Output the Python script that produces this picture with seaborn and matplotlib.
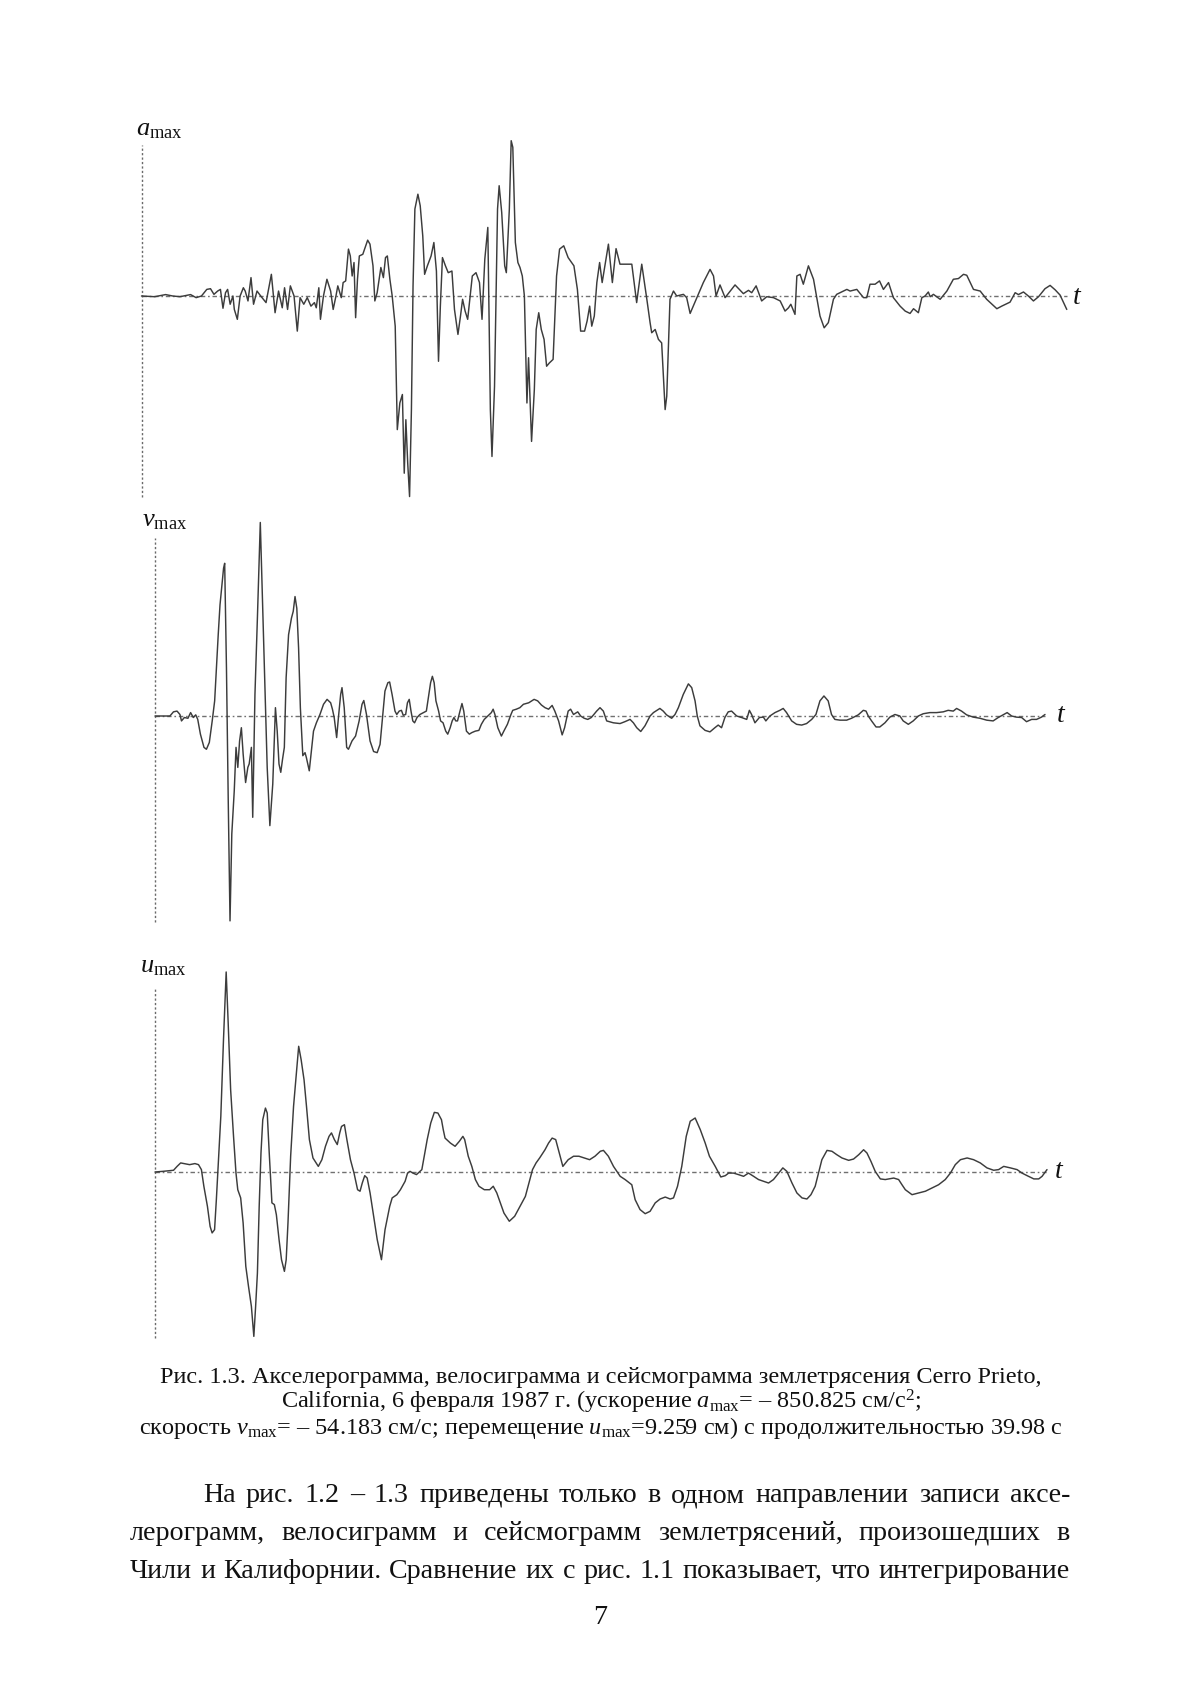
import matplotlib
matplotlib.use("Agg")
import matplotlib.pyplot as plt
import pandas as pd
import seaborn as sns

# ---------------- data ----------------
# acceleration record a(t): (time, s ; acceleration, cm/s^2)
acc_pts = [
    (0.00, 0), (0.57, -3), (1.04, 6), (1.35, 0), (1.66, -3), (2.12, 6), (2.36, -7), (2.59, 0),
    (2.82, 28), (2.98, 31), (3.13, 7), (3.29, 21), (3.41, 28), (3.52, -52), (3.63, 14), (3.72, 28),
    (3.83, -35), (3.95, 0), (4.01, -57), (4.14, -99), (4.26, 0), (4.40, 35), (4.48, 21), (4.60, -21),
    (4.73, 78), (4.84, -35), (4.99, 21), (5.15, 0), (5.38, -28), (5.61, 92), (5.77, -71), (5.92, 21),
    (6.08, -50), (6.18, 35), (6.31, -57), (6.43, 43), (6.59, 0), (6.73, -149), (6.85, -7), (7.01, -35),
    (7.16, -7), (7.32, -43), (7.47, -28), (7.55, -50), (7.66, 35), (7.73, -99), (7.86, 0), (8.01, 71),
    (8.17, 21), (8.28, -57), (8.40, 0), (8.48, 43), (8.63, -7), (8.71, 57), (8.82, 64), (8.94, 199),
    (9.02, 170), (9.10, 85), (9.18, 142), (9.25, -92), (9.33, 71), (9.41, 170), (9.56, 177), (9.77, 237),
    (9.87, 220), (10.00, 128), (10.08, -21), (10.18, 14), (10.34, 121), (10.45, 78), (10.54, 163),
    (10.62, 170), (10.73, 71), (10.83, 0), (10.96, -128), (11.05, -567), (11.16, -454), (11.27, -418),
    (11.35, -752), (11.42, -525), (11.50, -709), (11.58, -851), (11.66, -482), (11.73, 43), (11.81, 369),
    (11.94, 432), (12.04, 383), (12.15, 255), (12.23, 92), (12.35, 128), (12.51, 170), (12.63, 227),
    (12.74, 106), (12.83, -277), (12.91, -43), (13.00, 163), (13.13, 128), (13.25, 99), (13.41, 106),
    (13.52, -57), (13.67, -163), (13.78, -85), (13.87, -14), (13.98, -64), (14.09, -99), (14.29, 85),
    (14.45, 99), (14.60, 57), (14.71, -99), (14.83, 156), (14.96, 291), (15.07, -482), (15.14, -681),
    (15.25, -383), (15.38, 369), (15.45, 468), (15.56, 355), (15.69, 128), (15.76, 99), (15.89, 369),
    (15.97, 659), (16.04, 631), (16.15, 227), (16.26, 142), (16.35, 121), (16.45, 85), (16.54, 0),
    (16.65, -454), (16.72, -262), (16.85, -617), (16.97, -397), (17.05, -142), (17.16, -71),
    (17.27, -142), (17.39, -184), (17.50, -298), (17.62, -284), (17.78, -269), (17.93, 85), (18.06, 199),
    (18.24, 213), (18.43, 163), (18.68, 128), (18.83, 28), (18.97, -149), (19.14, -149), (19.25, -106),
    (19.36, -43), (19.45, -128), (19.56, -85), (19.67, 57), (19.79, 142), (19.90, 57), (20.17, 220),
    (20.34, 57), (20.50, 201), (20.67, 135), (21.18, 135), (21.39, -28), (21.61, 135), (21.83, -14),
    (21.97, -113), (22.04, -156), (22.19, -142), (22.33, -184), (22.47, -199), (22.62, -482),
    (22.69, -425), (22.76, -213), (22.83, -14), (22.98, 21), (23.12, 0), (23.41, 7), (23.55, -7),
    (23.70, -74), (23.99, -7), (24.27, 57), (24.56, 113), (24.71, 85), (24.82, 0), (24.99, 47),
    (25.21, -7), (25.64, 47), (26.00, 10), (26.22, 24), (26.36, 14), (26.55, 43), (26.79, -21),
    (27.01, -3), (27.30, -7), (27.59, -21), (27.80, -64), (27.95, -50), (28.05, -35), (28.23, -78),
    (28.31, 85), (28.45, 92), (28.59, 50), (28.81, 128), (29.03, 71), (29.31, -85), (29.49, -135),
    (29.67, -113), (29.89, -14), (30.03, 7), (30.47, 28), (30.61, 21), (30.90, 28), (31.19, -7),
    (31.33, -7), (31.47, 50), (31.69, 50), (31.88, 64), (32.05, 28), (32.27, 57), (32.48, -7),
    (32.77, -43), (32.99, -64), (33.20, -74), (33.35, -54), (33.56, -71), (33.71, -7), (33.85, 0),
    (33.99, 17), (34.07, -3), (34.21, 7), (34.50, -14), (34.79, 21), (35.07, 71), (35.29, 74),
    (35.51, 92), (35.65, 88), (35.94, 28), (36.23, 21), (36.51, -14), (36.95, -54), (37.16, -43),
    (37.52, -26), (37.74, 14), (37.88, 6), (38.10, 17), (38.31, 0), (38.53, -21), (38.75, -3),
    (39.03, 31), (39.25, 45), (39.47, 26), (39.68, 4), (39.83, -28), (39.97, -57),
]

# velocity record v(t): (time, s ; velocity, cm/s)
vel_pts = [
    (0.00, 0.0), (0.67, 0.0), (0.83, 1.1), (0.99, 1.3), (1.12, 0.4), (1.19, -1.3), (1.32, -0.4),
    (1.48, -0.6), (1.60, 0.9), (1.72, -0.4), (1.83, 0.3), (1.92, -0.9), (2.04, -4.8), (2.20, -8.3),
    (2.31, -8.8), (2.44, -7.0), (2.57, -1.3), (2.68, 4.0), (2.84, 21.5), (2.92, 29.4), (3.08, 39.1),
    (3.13, 40.4), (3.21, 12.7), (3.29, -22.4), (3.37, -54.2), (3.45, -31.2), (3.56, -19.8), (3.64, -8.3),
    (3.72, -13.6), (3.80, -6.6), (3.88, -3.1), (3.96, -10.1), (4.07, -17.6), (4.17, -13.6), (4.23, -12.7),
    (4.33, -8.3), (4.39, -26.8), (4.49, 5.7), (4.60, 25.9), (4.73, 51.2), (4.81, 34.7), (4.92, 11.0),
    (5.04, -13.6), (5.16, -29.0), (5.29, -18.0), (5.41, 2.2), (5.49, -4.0), (5.57, -12.7), (5.65, -14.9),
    (5.73, -11.4), (5.81, -8.3), (5.89, 10.1), (6.00, 21.5), (6.13, 25.9), (6.21, 27.7), (6.29, 31.6),
    (6.37, 28.5), (6.45, 18.0), (6.53, 2.2), (6.64, -10.5), (6.74, -9.7), (6.80, -11.0), (6.93, -14.5),
    (7.01, -10.1), (7.12, -4.0), (7.25, -1.8), (7.41, 0.4), (7.57, 3.1), (7.73, 4.4), (7.89, 3.5),
    (7.97, 1.8), (8.05, -0.4), (8.16, -5.7), (8.24, -0.4), (8.34, 5.7), (8.40, 7.5), (8.50, 2.2),
    (8.61, -8.3), (8.69, -8.8), (8.85, -6.6), (9.01, -5.3), (9.17, -1.3), (9.30, 3.1), (9.38, 4.1),
    (9.50, 0.4), (9.66, -6.6), (9.82, -9.4), (9.98, -9.7), (10.11, -7.5), (10.22, -0.4), (10.33, 6.6),
    (10.46, 8.8), (10.54, 9.0), (10.65, 5.7), (10.78, 1.3), (10.86, 0.4), (10.97, 1.3), (11.07, 1.5),
    (11.15, 0.2), (11.26, 0.4), (11.34, 3.5), (11.42, 4.4), (11.50, 1.3), (11.58, -1.3), (11.66, -1.8),
    (11.77, -0.4), (11.90, 0.4), (12.06, 0.9), (12.19, 1.3), (12.30, 5.7), (12.38, 8.8), (12.46, 10.5),
    (12.54, 8.8), (12.62, 4.0), (12.74, 1.3), (12.83, -1.3), (12.94, -1.8), (13.06, -4.0), (13.15, -4.8),
    (13.26, -3.1), (13.35, -1.3), (13.43, -0.4), (13.51, -1.3), (13.59, -1.3), (13.70, 1.3), (13.79, 3.3),
    (13.87, 1.3), (13.99, -4.0), (14.12, -4.8), (14.23, -4.4), (14.39, -4.0), (14.55, -3.8), (14.66, -2.2),
    (14.79, -0.9), (14.95, 0.0), (15.11, 0.9), (15.19, 1.8), (15.27, 0.4), (15.40, -3.1), (15.56, -5.3),
    (15.67, -4.0), (15.83, -2.2), (15.99, 0.4), (16.07, 1.5), (16.23, 1.8), (16.39, 2.2), (16.55, 3.1),
    (16.79, 3.5), (17.03, 4.4), (17.19, 4.0), (17.36, 2.9), (17.52, 2.2), (17.68, 1.8), (17.84, 2.8),
    (17.96, 1.3), (18.13, -1.3), (18.29, -5.0), (18.40, -3.1), (18.56, 1.3), (18.67, 1.8), (18.80, 0.4),
    (18.99, 1.1), (19.12, 0.0), (19.28, -0.6), (19.44, -0.9), (19.60, -0.4), (19.84, 1.3), (19.99, 2.2),
    (20.14, 1.3), (20.29, -1.3), (20.59, -1.8), (20.89, -2.0), (21.11, -1.5), (21.34, -0.9), (21.49, -1.8),
    (21.64, -3.1), (21.82, -4.1), (22.01, -2.6), (22.24, 0.0), (22.39, 0.9), (22.68, 2.0), (22.83, 1.3),
    (22.98, 0.3), (23.21, -0.6), (23.36, 0.4), (23.51, 2.2), (23.73, 5.7), (23.96, 8.5), (24.11, 7.5),
    (24.26, 4.0), (24.36, 0.0), (24.48, -2.6), (24.71, -3.8), (24.93, -4.2), (25.15, -3.1), (25.30, -2.4),
    (25.45, -3.1), (25.60, -0.4), (25.75, 1.1), (25.90, 1.3), (26.13, 0.0), (26.35, -0.4), (26.58, -0.9),
    (26.70, 1.5), (26.80, 0.4), (26.95, -1.8), (27.15, -0.4), (27.33, -0.3), (27.44, -1.3), (27.62, 0.0),
    (27.85, 0.9), (28.07, 1.5), (28.22, 2.0), (28.37, 0.9), (28.60, -1.3), (28.82, -2.2), (29.05, -2.4),
    (29.27, -2.0), (29.50, -0.9), (29.69, 0.4), (29.87, 4.0), (30.05, 5.3), (30.24, 4.0), (30.39, 0.4),
    (30.54, -0.9), (30.77, -1.1), (31.07, -1.1), (31.29, -0.6), (31.59, 0.3), (31.82, 1.5), (31.94, 1.3),
    (32.04, 0.0), (32.19, -1.3), (32.39, -2.9), (32.56, -2.9), (32.79, -1.8), (33.01, -0.3), (33.24, 0.4),
    (33.46, 0.0), (33.61, -1.3), (33.84, -2.2), (34.06, -1.3), (34.29, 0.0), (34.51, 0.6), (34.81, 0.9),
    (35.11, 0.9), (35.41, 1.1), (35.63, 1.5), (35.86, 1.3), (36.01, 2.0), (36.23, 1.3), (36.46, 0.3),
    (36.76, -0.3), (37.06, -0.6), (37.36, -1.1), (37.65, -1.3), (37.88, -0.4), (38.10, 0.3), (38.28, 0.9),
    (38.48, 0.0), (38.70, -0.3), (38.93, -0.4), (39.15, -1.5), (39.38, -0.9), (39.60, -0.9), (39.82, -0.3),
    (39.98, 0.4),
]

# displacement record u(t): (time, s ; displacement, cm)
dis_pts = [
    (0.00, 0.00), (0.35, 0.03), (0.83, 0.08), (0.99, 0.26), (1.15, 0.42), (1.31, 0.39), (1.55, 0.34),
    (1.79, 0.39), (1.95, 0.34), (2.08, 0.11), (2.19, -0.66), (2.35, -1.59), (2.47, -2.52), (2.56, -2.82),
    (2.67, -2.67), (2.75, -1.28), (2.83, 0.26), (2.95, 2.58), (3.07, 6.13), (3.19, 9.26), (3.28, 6.90),
    (3.39, 3.81), (3.52, 1.65), (3.63, -0.05), (3.71, -0.82), (3.84, -1.20), (3.95, -2.36), (4.07, -4.37),
    (4.19, -5.29), (4.32, -6.22), (4.43, -7.61), (4.51, -6.22), (4.59, -4.68), (4.67, -1.59), (4.75, 0.88),
    (4.83, 2.42), (4.95, 2.96), (5.03, 2.73), (5.12, 0.88), (5.24, -1.43), (5.35, -1.51), (5.44, -1.98),
    (5.56, -3.13), (5.67, -4.06), (5.80, -4.60), (5.88, -4.06), (5.96, -2.36), (6.08, 0.73), (6.21, 3.04),
    (6.36, 4.89), (6.44, 5.82), (6.55, 5.20), (6.68, 4.27), (6.79, 3.04), (6.92, 1.50), (7.08, 0.65),
    (7.32, 0.26), (7.48, 0.57), (7.64, 1.19), (7.80, 1.65), (7.91, 1.81), (8.04, 1.50), (8.17, 1.27),
    (8.28, 1.81), (8.36, 2.11), (8.49, 2.19), (8.60, 1.50), (8.76, 0.57), (8.92, -0.05), (9.08, -0.82),
    (9.19, -0.89), (9.29, -0.51), (9.40, -0.17), (9.51, -0.28), (9.64, -0.97), (9.80, -2.05), (9.96, -3.13),
    (10.15, -4.06), (10.31, -2.67), (10.52, -1.59), (10.63, -1.20), (10.84, -1.05), (11.00, -0.82),
    (11.21, -0.43), (11.32, -0.05), (11.43, 0.03), (11.56, -0.05), (11.72, -0.12), (11.96, 0.11),
    (12.20, 1.50), (12.36, 2.27), (12.52, 2.76), (12.68, 2.73), (12.84, 2.42), (12.92, 1.96), (13.00, 1.57),
    (13.24, 1.34), (13.45, 1.19), (13.64, 1.42), (13.80, 1.65), (13.88, 1.50), (14.04, 0.73), (14.20, 0.26),
    (14.36, -0.35), (14.52, -0.66), (14.76, -0.82), (15.00, -0.82), (15.16, -0.66), (15.32, -0.97),
    (15.48, -1.43), (15.64, -1.90), (15.88, -2.28), (16.12, -2.05), (16.36, -1.59), (16.60, -1.13),
    (16.76, -0.51), (16.92, 0.11), (17.08, 0.42), (17.24, 0.65), (17.48, 1.03), (17.64, 1.34), (17.80, 1.57),
    (17.96, 1.50), (18.12, 0.88), (18.28, 0.26), (18.52, 0.57), (18.76, 0.73), (19.00, 0.73), (19.24, 0.65),
    (19.48, 0.57), (19.72, 0.73), (19.96, 0.96), (20.10, 1.00), (20.32, 0.73), (20.55, 0.26), (20.85, -0.20),
    (21.07, -0.35), (21.37, -0.59), (21.52, -1.28), (21.74, -1.74), (21.97, -1.93), (22.19, -1.82),
    (22.42, -1.43), (22.64, -1.25), (22.87, -1.16), (23.09, -1.25), (23.24, -1.20), (23.42, -0.66),
    (23.61, 0.26), (23.81, 1.65), (23.99, 2.35), (24.21, 2.50), (24.44, 1.96), (24.66, 1.34), (24.85, 0.73),
    (25.11, 0.26), (25.36, -0.23), (25.56, -0.17), (25.71, -0.05), (25.93, -0.05), (26.15, -0.12),
    (26.38, -0.20), (26.60, -0.05), (26.83, -0.20), (27.05, -0.35), (27.28, -0.43), (27.50, -0.51),
    (27.72, -0.35), (27.95, -0.05), (28.14, 0.19), (28.32, 0.03), (28.55, -0.51), (28.77, -0.97),
    (29.00, -1.20), (29.22, -1.25), (29.40, -1.05), (29.59, -0.66), (29.74, -0.05), (29.89, 0.57),
    (30.12, 1.00), (30.34, 0.96), (30.56, 0.80), (30.79, 0.65), (31.09, 0.54), (31.31, 0.60), (31.54, 0.80),
    (31.76, 1.03), (31.91, 0.88), (32.09, 0.49), (32.28, 0.03), (32.51, -0.32), (32.73, -0.35),
    (33.11, -0.28), (33.33, -0.35), (33.48, -0.59), (33.63, -0.82), (33.93, -1.05), (34.23, -0.97),
    (34.53, -0.89), (34.83, -0.74), (35.12, -0.59), (35.42, -0.35), (35.65, -0.05), (35.87, 0.34),
    (36.10, 0.57), (36.40, 0.65), (36.69, 0.57), (36.99, 0.42), (37.29, 0.19), (37.59, 0.08), (37.81, 0.11),
    (38.04, 0.26), (38.34, 0.19), (38.64, 0.11), (38.86, -0.05), (39.09, -0.17), (39.39, -0.32),
    (39.61, -0.32), (39.76, -0.20), (39.98, 0.11),
]

duration = 39.98
panel_labels = ["a", "v", "u"]
time_label = "t"

caption_lines = [
    "Рис. 1.3. Акселерограмма, велосиграмма и сейсмограмма землетрясения Cerro Prieto,",
    r"California, 6 февраля 1987 г. (ускорение $a_{\mathrm{max}}$= – 850.825 см/с$^{2}$;",
    r"скорость $v_{\mathrm{max}}$= – 54.183 см/с; перемещение $u_{\mathrm{max}}$=9.259 см) с продолжительностью 39.98 с",
]
body_lines = [
    "На рис. 1.2 – 1.3 приведены только в одном направлении записи акce-",
    "лерограмм, велосиграмм и сейсмограмм землетрясений, произошедших в",
    "Чили и Калифорнии. Сравнение их с рис. 1.1 показывает, что интегрирование",
]
page_number = "7"

# ---------------- style ----------------
sns.set_theme(style="white")
plt.rcParams["font.family"] = ["Liberation Serif", "DejaVu Serif"]
plt.rcParams["mathtext.fontset"] = "custom"
plt.rcParams["mathtext.rm"] = "Liberation Serif"
plt.rcParams["mathtext.it"] = "Liberation Serif:italic"
plt.rcParams["mathtext.bf"] = "Liberation Serif:bold"

W, H = 1200, 1698
fig = plt.figure(figsize=(W / 100, H / 100), dpi=100)
fig.patch.set_facecolor("white")
renderer = fig.canvas.get_renderer()

TRACE = "#3c3c3c"
AXCOL = "#6a6a6a"
INK = "#111111"


def fx(x):
    return x / W


def fy(y):
    return 1 - y / H


def make_axes(x_left, x_right, y_zero, px_per_unit, ylim):
    lo, hi = ylim
    top = y_zero - hi * px_per_unit
    bottom = y_zero - lo * px_per_unit
    return fig.add_axes([fx(x_left), fy(bottom), (x_right - x_left) / W, (bottom - top) / H])


def fit_size(text, target_px, base=20.0):
    t = fig.text(0, 0, text, fontsize=base)
    w = t.get_window_extent(renderer).width
    t.remove()
    return base * target_px / w


# layout of the three panels: (left px, right px, zero-line px, px per unit, ylim,
#                              axis-line extent, label position, t position)
layout = [
    (141.5, 1067, 296, 200.5 / 850.825, (-880, 690), (640, -853), (136, 135), (1073, 304)),
    (155, 1045, 716, 3.78, (-56, 53), (47.1, -54.5), (142, 526), (1057, 722)),
    (155, 1047, 1172, 21.6, (-7.9, 9.5), (8.56, -7.69), (140, 972), (1055, 1178)),
]
records = [acc_pts, vel_pts, dis_pts]

for pts, (xl, xr, yz, ppu, ylim, vext, lab_xy, t_xy), name in zip(records, layout, panel_labels):
    ax = make_axes(xl, xr, yz, ppu, ylim)
    df = pd.DataFrame(pts, columns=["t", "val"])
    ax.vlines(0, vext[1], vext[0], colors=AXCOL, linestyles=(0, (1.6, 1.6)), lw=1.0, clip_on=False)
    ax.hlines(0, 0, duration, colors="#707070", linestyles=(0, (3.2, 2.0, 1.2, 2.0)), lw=1.0,
              clip_on=False)
    sns.lineplot(data=df, x="t", y="val", ax=ax, color=TRACE, lw=1.05, sort=False,
                 estimator=None, clip_on=False)
    ax.set_xlim(0, duration)
    ax.set_ylim(*ylim)
    ax.set_axis_off()
    fig.text(fx(lab_xy[0]), fy(lab_xy[1]), rf"${name}_{{\mathrm{{max}}}}$", fontsize=19,
             ha="left", va="baseline", color=INK)
    fig.text(fx(t_xy[0]), fy(t_xy[1]), time_label, fontsize=20, style="italic",
             ha="left", va="baseline", color=INK)

# caption: size fitted so the first line spans the same width as in the picture
cap_size = fit_size(caption_lines[0], 884)
cap_base = [1383, 1409, 1434]
for line, yb in zip(caption_lines, cap_base):
    fig.text(fx(601), fy(yb), line, fontsize=cap_size, ha="center", va="baseline", color=INK)

# body text, justified; size fitted so the last line is set with ordinary spacing
body_size = fit_size(body_lines[2], 930)
body_x = [(203, 1070), (130, 1070), (130, 1070)]
body_base = [1502, 1540, 1578]
for line, (x0, x1), yb in zip(body_lines, body_x, body_base):
    words = line.split(" ")
    txts = [fig.text(0, fy(yb), w, fontsize=body_size, ha="left", va="baseline", color=INK)
            for w in words]
    widths = [t.get_window_extent(renderer).width for t in txts]
    gap = (x1 - x0 - sum(widths)) / (len(words) - 1)
    x = x0
    for t, w in zip(txts, widths):
        t.set_x(fx(x))
        x += w + gap

fig.text(fx(600), fy(1624), page_number, fontsize=body_size, ha="center", va="baseline", color=INK)

fig.savefig("out.png", dpi=100, facecolor="white")
